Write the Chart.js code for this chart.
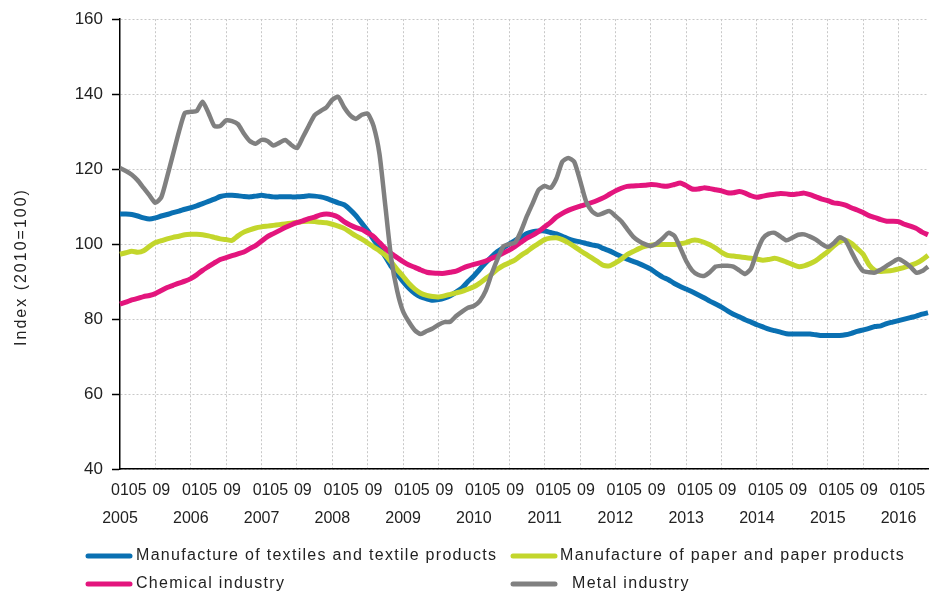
<!DOCTYPE html>
<html lang="en">
<head>
  <meta charset="UTF-8">
  <title>Industry output index 2005-2016</title>
  <script src="https://cdn.jsdelivr.net/npm/chart.js"></script>
  <style>
    * { margin: 0; padding: 0; box-sizing: border-box; }
    body { background: #fff; width: 936px; height: 600px; overflow: hidden; }
    #chart { display: block; }
  </style>
</head>
<body>
  <canvas id="chart" width="936" height="600"></canvas>
  <script>
    // --- data (monthly, 2005-01 .. 2016-06) ---
    const years = [2005, 2006, 2007, 2008, 2009, 2010, 2011, 2012, 2013, 2014, 2015, 2016];
    // month tick texts; placed where the original squeezes them (just after each January)
    const monthTicks = { 0: '01', 3: '05', 7: '09' };
    const yTicks = [40, 60, 80, 100, 120, 140, 160];

    const textiles = [
      108, 108, 107.9, 107.5, 107, 106.7, 107, 107.5, 107.9, 108.4, 108.8, 109.3,
      109.7, 110.2, 110.8, 111.4, 112, 112.7, 113, 113, 112.9, 112.7, 112.6, 112.8,
      113, 112.8, 112.6, 112.6, 112.6, 112.6, 112.6, 112.7, 112.9, 112.8, 112.6, 112.2,
      111.6, 111, 110.5, 109.2, 107.6, 105.6, 103.6, 101.2, 99, 96.6, 94, 92,
      90, 88.2, 86.8, 85.9, 85.4, 85, 85.2, 85.6, 86.2, 87.2, 88.3, 90,
      91.5, 93.3, 95, 96.6, 98, 99, 100, 101, 101.8, 102.8, 103.3, 103.5,
      103.5, 103.1, 102.7, 102.1, 101.4, 100.9, 100.6, 100.2, 99.8, 99.5, 98.8, 98.2,
      97.4, 96.7, 96, 95.4, 94.8, 94.1, 93.3, 92.2, 91.2, 90.5, 89.5, 88.7,
      88, 87.3, 86.5, 85.7, 84.8, 84, 83.2, 82.2, 81.3, 80.6, 79.8, 79.2,
      78.5, 77.9, 77.3, 76.9, 76.5, 76.1, 76, 76, 76, 76, 75.8, 75.6,
      75.6, 75.6, 75.6, 75.8, 76.2, 76.7, 77.1, 77.5, 78, 78.2, 78.8, 79.2,
      79.6, 80, 80.4, 80.8, 81.3, 81.7
    ];
    const paper = [
      97.3, 97.7, 98.1, 97.8, 98.2, 99.4, 100.4, 100.9, 101.4, 101.8, 102.1, 102.5,
      102.6, 102.6, 102.5, 102.2, 101.8, 101.4, 101.2, 101, 102.2, 103.2, 103.8, 104.3,
      104.6, 104.8, 105, 105.2, 105.4, 105.6, 105.8, 106, 106.1, 106, 105.8, 105.7,
      105.3, 104.8, 104.2, 103.2, 102.2, 101.3, 100.3, 99.2, 98.2, 97, 95.2, 93.2,
      91.4, 89.5, 88, 86.9, 86.3, 86, 85.9, 86.2, 86.6, 87, 87.4, 88,
      88.6, 89.6, 90.8, 92, 93.3, 94.3, 95, 95.8, 97, 98, 99.2, 100.2,
      101.2, 101.6, 101.7, 101.2, 100.4, 99.4, 98.3, 97.3, 96.3, 95.3, 94.3, 94.2,
      95, 96, 97.2, 98, 98.8, 99.4, 99.7, 99.9, 99.9, 99.9, 99.9, 100.1,
      100.4, 101, 101, 100.5, 99.8, 98.9, 97.8, 97, 96.8, 96.6, 96.4, 96.2,
      96, 95.7, 95.9, 96.2, 95.8, 95.2, 94.6, 94, 94.2, 94.8, 95.6, 96.8,
      98, 99.5, 100.6, 101, 100.2, 98.8, 97.3, 94.5, 93, 92.7, 92.8, 93,
      93.4, 93.8, 94.3, 94.9, 95.8, 97
    ];
    const chemical = [
      84, 84.5, 85.1, 85.5, 86, 86.3, 86.8, 87.6, 88.4, 89, 89.6, 90.1,
      90.8, 91.8, 93, 94, 95, 95.9, 96.4, 96.9, 97.4, 97.9, 98.8, 99.6,
      100.8, 102, 102.8, 103.6, 104.4, 105.1, 105.7, 106.2, 106.8, 107.2, 107.8, 108,
      107.8, 107.2, 106, 105.1, 104.4, 103.9, 103, 102, 100.4, 98.8, 97.5, 96.4,
      95.3, 94.4, 93.8, 93.1, 92.5, 92.3, 92.2, 92.2, 92.5, 92.8, 93.5, 94.1,
      94.6, 95, 95.5, 96.2, 96.8, 97.6, 98.4, 99.4, 100.5, 101.6, 102.4, 103.4,
      104.6, 105.8, 107.2, 108.2, 109, 109.6, 110.1, 110.6, 111.1, 111.7, 112.4, 113.3,
      114.2, 114.9, 115.4, 115.5, 115.6, 115.7, 115.9, 115.8, 115.5, 115.5, 115.9, 116.3,
      115.6, 114.7, 114.7, 115, 114.8, 114.5, 114.2, 113.7, 113.7, 114, 113.6, 112.9,
      112.5, 112.8, 113.1, 113.3, 113.5, 113.4, 113.2, 113.4, 113.6, 113.2, 112.6, 112,
      111.6, 111, 110.8, 110.4, 109.7, 109.1, 108.4, 107.6, 107.1, 106.5, 106.1, 106.1,
      106, 105.3, 104.8, 104.2, 103.2, 102.5
    ];
    const metal = [
      120.3, 119.5, 118.5, 117, 115, 113, 111, 112.5, 118, 124, 130, 135,
      135.3, 135.5, 138, 135, 131.5, 131.5, 133, 132.8, 132, 129.5, 127.5, 126.8,
      127.8, 127.5, 126.3, 127, 127.8, 126.5, 125.6, 128.5, 131.5, 134.4, 135.5, 136.5,
      138.5, 139.3, 136.5, 134.4, 133.4, 134.5, 134.8, 131.5, 124, 110, 96, 87.5,
      82, 79.2, 77, 76, 76.8, 77.5, 78.5, 79.2, 79.3, 80.8, 82, 83,
      83.5, 84.8, 87.5, 92, 96, 99.4, 100, 100.4, 103.5, 107.5, 111, 114.5,
      115.5, 115, 117.5, 122, 123, 122, 117, 111.5, 108.8, 107.8, 108.3, 108.8,
      107.5, 106.1, 104, 102, 100.8, 100, 99.5, 100.2, 101.5, 103, 102.2, 99,
      95.5, 93, 91.8, 91.5, 92.5, 94, 94.2, 94.2, 94, 93, 92, 93.5,
      98, 101.5, 102.8, 103, 102, 101, 101.7, 102.5, 102.6, 102, 101.2, 100,
      99.2, 100.2, 101.8, 101, 98, 95, 92.8, 92.5, 92.4, 93.2, 94.2, 95.2,
      96, 95.2, 94, 92.4, 92.8, 94
    ];

    const seriesNames = [
      'Manufacture of textiles and textile products',
      'Manufacture of paper and paper products',
      'Chemical industry',
      'Metal industry'
    ];
    const seriesColors = ['#0a70b2', '#c3d62c', '#e3157d', '#808080'];

    // month labels 2005-01 ... built from the years list
    const labels = [];
    for (let i = 0; i < textiles.length; i++) {
      const y = years[Math.floor(i / 12)];
      const m = (i % 12) + 1;
      labels.push(y + '-' + String(m).padStart(2, '0'));
    }

    const FONT = '"Liberation Sans", Arial, sans-serif';

    // legend in two columns + rotated axis title, drawn on the canvas
    const legendSpots = [
      { x: 88, y: 556, tx: 136 },
      { x: 513, y: 556, tx: 560 },
      { x: 88, y: 584, tx: 136 },
      { x: 513, y: 584, tx: 572 }
    ];
    const extras = {
      id: 'extras',
      afterDraw(chart) {
        const ctx = chart.ctx;
        ctx.save();
        ctx.font = '16px ' + FONT;
        ctx.fillStyle = '#222';
        ctx.textBaseline = 'middle';
        ctx.letterSpacing = '1.3px';
        chart.data.datasets.forEach((ds, i) => {
          const p = legendSpots[i];
          ctx.strokeStyle = ds.borderColor;
          ctx.lineWidth = 5;
          ctx.lineCap = 'round';
          ctx.beginPath();
          ctx.moveTo(p.x, p.y);
          ctx.lineTo(p.x + 42, p.y);
          ctx.stroke();
          ctx.fillText(ds.label, p.tx, p.y);
        });
        // y axis title
        ctx.translate(22, 267);
        ctx.rotate(-Math.PI / 2);
        ctx.textAlign = 'center';
        ctx.letterSpacing = '2px';
        ctx.fillText('Index (2010=100)', 0, 0);
        ctx.restore();
      }
    };

    const datasets = [textiles, paper, chemical, metal].map((d, i) => ({
      label: seriesNames[i],
      data: d,
      borderColor: seriesColors[i],
      backgroundColor: seriesColors[i],
      borderWidth: i === 3 ? 4.5 : 5,
      pointRadius: 0,
      tension: 0.2,
      fill: false,
      order: [3, 2, 1, 0][i]
    }));

    new Chart(document.getElementById('chart'), {
      type: 'line',
      data: { labels: labels, datasets: datasets },
      options: {
        responsive: false,
        animation: false,
        layout: { padding: { top: 17, right: 2, left: 0, bottom: 0 } },
        plugins: { legend: { display: false }, tooltip: { enabled: false } },
        scales: {
          x: {
            offset: false,
            afterFit: s => { s.height = 131; },
            grid: {
              color: c => (c.index % 6 === 0 && c.index > 0) ? '#c8c8c8' : 'transparent',
              lineWidth: 1,
              drawTicks: false
            },
            border: { color: '#000', width: 1.5, dash: [2, 2] },
            ticks: {
              autoSkip: false,
              maxRotation: 0,
              minRotation: 0,
              padding: 8,
              color: '#222',
              font: { family: FONT, size: 16, lineHeight: 1.75 },
              callback: (v, i) => {
                const m = i % 12;
                if (m === 0) return [monthTicks[0], String(years[Math.floor(i / 12)])];
                return monthTicks[m] || '';
              }
            }
          },
          y: {
            min: 40,
            max: 160,
            afterFit: s => { s.width = 120; },
            afterBuildTicks: s => { s.ticks = yTicks.map(v => ({ value: v })); },
            grid: {
              color: '#c8c8c8',
              tickColor: '#000',
              tickLength: 8,
              tickWidth: 1.5
            },
            border: { color: '#000', width: 1.5, dash: [2, 2] },
            ticks: {
              padding: 9,
              color: '#222',
              font: { family: FONT, size: 17 }
            }
          }
        }
      },
      plugins: [extras]
    });
  </script>
</body>
</html>
